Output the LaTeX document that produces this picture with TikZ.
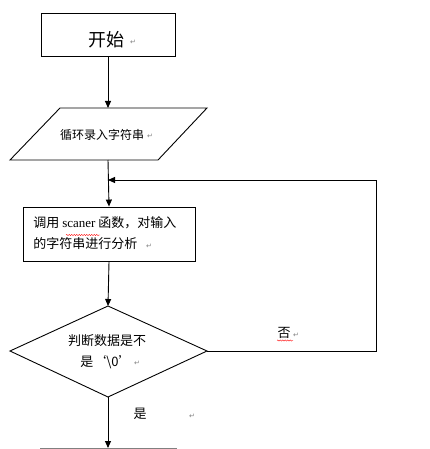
\documentclass[tikz,border=0pt]{standalone}
\usepackage{fontspec}
\newfontfamily\cjk{Noto Sans CJK SC}
\newfontfamily\sym{DejaVu Sans}
\newfontfamily\lat{Liberation Serif}
\usetikzlibrary{arrows.meta,decorations.pathmorphing}
\begin{document}
\begin{tikzpicture}[x=1pt,y=-1pt, line width=0.9pt,
  arr/.style={-{Triangle[length=7pt,width=6pt]}},
  ret/.style={text=gray, inner sep=0pt, font=\sym\fontsize{7}{7}\selectfont},
  txt/.style={inner sep=0pt, font=\cjk\fontsize{13}{21}\selectfont},
  squig/.style={red, line width=0.4pt, decorate, decoration={snake, amplitude=0.6pt, segment length=2.5pt}}]
\useasboundingbox (0,0) rectangle (430,449);
% start
\node[draw, minimum width=134pt, minimum height=43pt, inner sep=0pt] (start) at (108,34.5) {};
\node[inner sep=0pt, font=\cjk\fontsize{18}{18}\selectfont] (starttxt) at (106,40) {开始};
\node[ret] (r1) at (133,42) {↵};
% input parallelogram
\coordinate (p1) at (60,108);
\coordinate (p2) at (207,108);
\coordinate (p3) at (158,160);
\coordinate (p4) at (10,160);
\coordinate (ptop) at (108,108);
\coordinate (pbot) at (108,160);
\draw (p1) -- (p2) -- (p3) -- (p4) -- cycle;
\node[txt, font=\cjk\fontsize{12}{12}\selectfont] (intxt) at (102,135) {循环录入字符串};
\node[ret] (r2) at (150,136) {↵};
\draw[arr] (start.south) -- (ptop);
% process box
\node[draw, minimum width=172pt, minimum height=54pt, inner sep=0pt] (proc) at (109,234) {};
\node[txt, anchor=north west, align=left] (proctxt) at (33,216) {调用 {\lat\fontsize{13}{13}\selectfont scaner} 函数，对输入\\的字符串进行分析};
\node[ret] (r3) at (149,246) {↵};
\draw[squig] (66,235) -- (100,235);
\draw[arr] (pbot) -- (proc.north);
% decision
\coordinate (dtop) at (108,306);
\coordinate (dleft) at (10,351);
\coordinate (dright) at (207,351);
\coordinate (dbot) at (108,397);
\draw (dtop) -- (dright) -- (dbot) -- (dleft) -- cycle;
\node[txt, align=center] (dtxt) at (107,352) {判断数据是不\\是‘\textbackslash 0’\,};
\node[ret] (r4) at (137,363) {↵};
\draw[arr] (proc.south) -- (dtop);
% loop back
\coordinate (cR) at (376,351);
\coordinate (loopR) at (376,180);
\coordinate (join) at (108,180);
\draw[arr] (dright) -- (cR) -- (loopR) -- (join);
\node[txt] (no) at (284,333) {否};
\node[ret] (r5) at (296,335) {↵};
\draw[squig] (277,340.5) -- (293,340.5);
% yes branch
\coordinate (endp) at (108,448);
\draw[arr] (dbot) -- (endp);
\node[txt] (yes) at (140,414) {是};
\node[ret] (r6) at (192,416) {↵};
\coordinate (nb1) at (40,448.5);
\coordinate (nb2) at (177,448.5);
\draw[gray] (nb1) -- (nb2);
\end{tikzpicture}
\end{document}
